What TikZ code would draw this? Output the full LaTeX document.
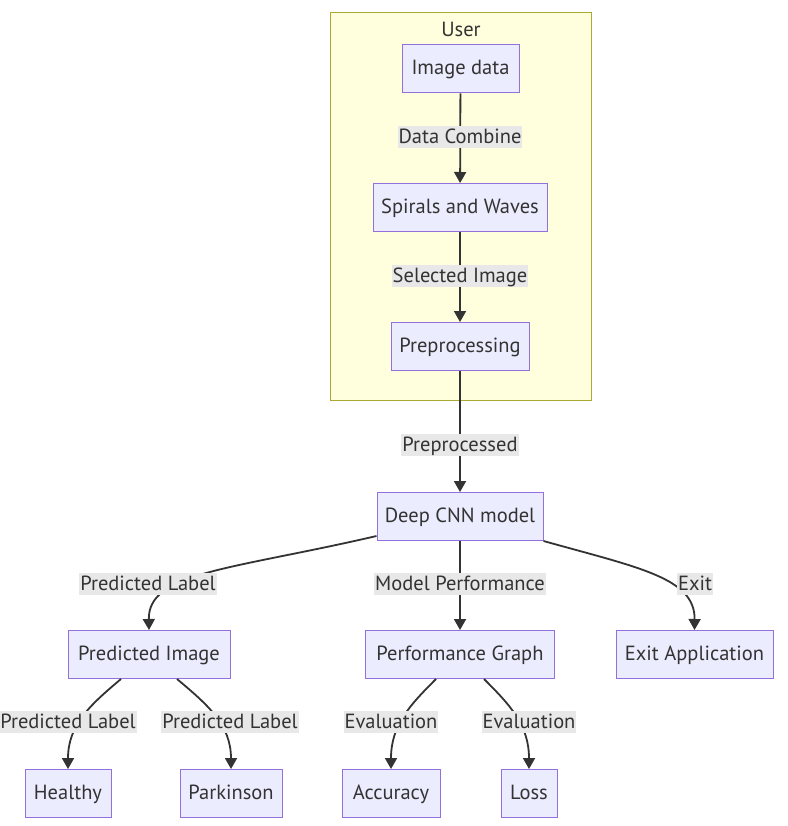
\documentclass[tikz,border=0pt]{standalone}
\usepackage{fontspec}
\setmainfont{PT Sans}
\usetikzlibrary{arrows.meta}
\definecolor{nodefill}{HTML}{ECECFF}
\definecolor{nodeline}{HTML}{9370DB}
\definecolor{txt}{HTML}{333333}
\definecolor{grpfill}{HTML}{FFFFDE}
\definecolor{grpline}{HTML}{AAAA33}
\definecolor{lblfill}{HTML}{E8E8E8}
\tikzset{
  box/.style={draw=nodeline, fill=nodefill, line width=1pt, text=txt, minimum height=48pt, inner sep=0pt, text height=14pt, text depth=2pt, font=\fontsize{20.5}{24}\selectfont},
  lbl/.style={fill=lblfill, text=txt, inner xsep=1pt, inner ysep=0pt, text height=18pt, text depth=4.5pt, font=\fontsize{20.5}{24}\selectfont},
  edge/.style={draw=txt, line width=1.8pt, -{Triangle[length=11pt,width=12pt]}},
}
\begin{document}
\begin{tikzpicture}[x=1pt,y=-1pt]
\useasboundingbox[fill=white] (0,0) rectangle (787,826);
% group
\node[draw=grpline, fill=grpfill, line width=1pt, minimum width=261pt, minimum height=387pt, inner sep=0pt] (grp) at (460.5,206.5) {};
\node[text=txt, font=\fontsize{20.5}{24}\selectfont] (user) at (461,29) {User};
% nodes
\node[box, minimum width=117pt] (img) at (460.5,69) {Image data};
\node[box, minimum width=174pt] (spw) at (460,207.5) {Spirals and Waves};
\node[box, minimum width=138pt] (pre) at (460,346.5) {Preprocessing};
\node[box, minimum width=166pt] (cnn) at (460,516.5) {Deep CNN model};
\node[box, minimum width=162pt] (pim) at (149,654.5) {Predicted Image};
\node[box, minimum width=189pt] (pg) at (460,654.5) {Performance Graph};
\node[box, minimum width=157pt] (ex) at (694.5,654.5) {Exit Application};
\node[box, minimum width=86pt] (hl) at (68,793.5) {Healthy};
\node[box, minimum width=102pt] (pk) at (231,793.5) {Parkinson};
\node[box, minimum width=98pt] (acc) at (391,793.5) {Accuracy};
\node[box, minimum width=56pt] (loss) at (529,793.5) {Loss};
% edges
\draw[edge] (img) -- (spw);
\draw[edge] (spw) -- (pre);
\draw[edge] (pre) -- (cnn);
\draw[edge] (cnn.south) -- (pg.north);
\draw[edge] (cnn.south west) ++(0,-5) .. controls (230,570) and (148,572) .. (pim.north);
\draw[edge] (cnn.south east) ++(0,0) .. controls (640,568) and (695,578) .. (ex.north);
\draw[edge] (pim.south) ++(-28,0) .. controls (90,705) and (68,725) .. (hl.north);
\draw[edge] (pim.south) ++(28,0) .. controls (208,705) and (231,725) .. (pk.north);
\draw[edge] (pg.south) ++(-24,0) .. controls (410,705) and (391,725) .. (acc.north);
\draw[edge] (pg.south) ++(24,0) .. controls (510,705) and (529,725) .. (loss.north);
% labels
\node[lbl] (l1) at (460,137) {Data Combine};
\node[lbl] (l2) at (460,276) {Selected Image};
\node[lbl] (l3) at (460,445) {Preprocessed};
\node[lbl] (l4) at (148,584) {Predicted Label};
\node[lbl] (l5) at (460,584) {Model Performance};
\node[lbl] (l6) at (695,584) {Exit};
\node[lbl] (l7) at (68,722) {Predicted Label};
\node[lbl] (l8) at (230,722) {Predicted Label};
\node[lbl] (l9) at (391,722) {Evaluation};
\node[lbl] (l10) at (529,722) {Evaluation};
\end{tikzpicture}
\end{document}
